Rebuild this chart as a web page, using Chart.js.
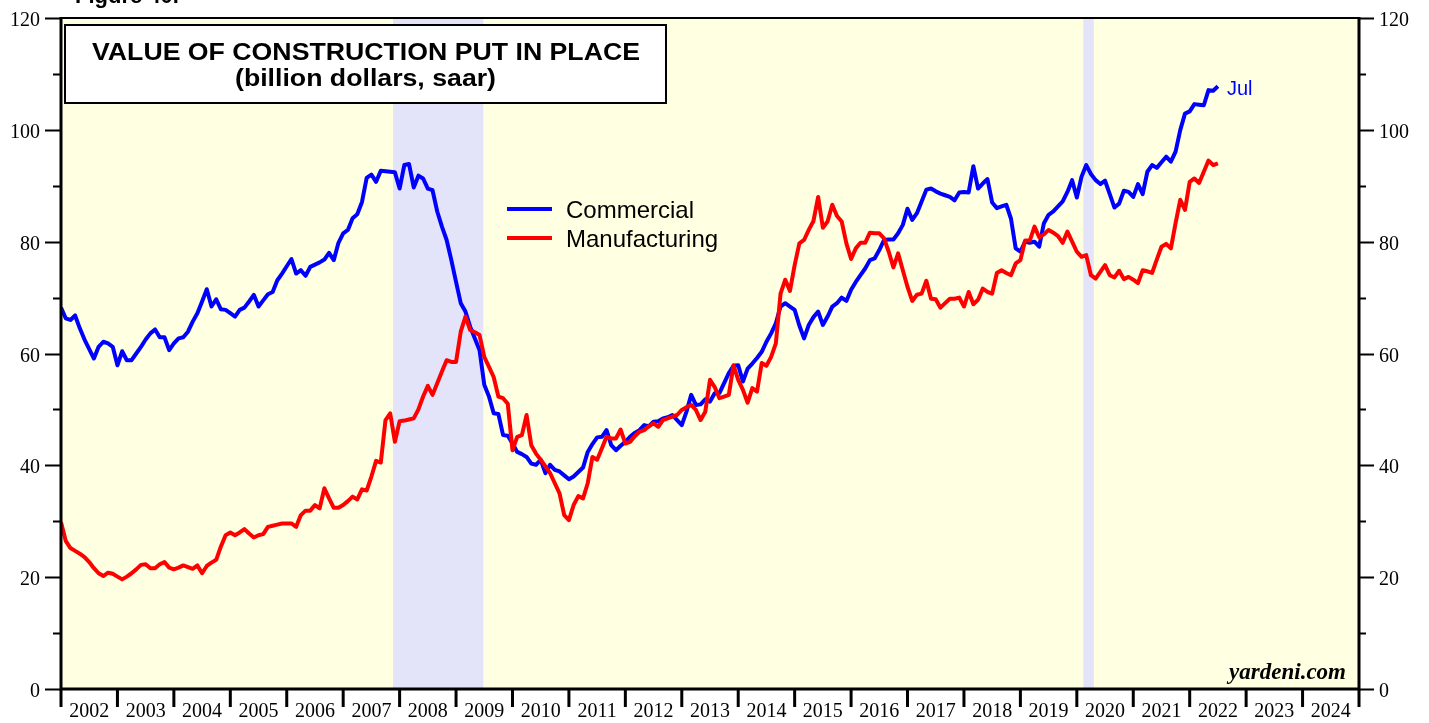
<!DOCTYPE html>
<html>
<head>
<meta charset="utf-8">
<title>Value of Construction Put in Place</title>
<script src="https://cdn.jsdelivr.net/npm/chart.js@4.4.1/dist/chart.umd.min.js"></script>
<style>
    html, body { margin: 0; padding: 0; background: #fff; }
    #wrap { width: 1429px; height: 723px; }
</style>
</head>
<body>
<div id="wrap"><canvas id="constructionChart" width="1429" height="723"></canvas></div>
<script>
// Monthly data, Jan 2002 .. Jul 2022 (billion dollars, saar)
const yearLabels = ['2002', '2003', '2004', '2005', '2006', '2007', '2008', '2009', '2010', '2011', '2012',
    '2013', '2014', '2015', '2016', '2017', '2018', '2019', '2020', '2021', '2022', '2023', '2024'];
const yTicks = [0, 20, 40, 60, 80, 100, 120];
const yMinorTicks = [10, 30, 50, 70, 90, 110];
// recession bands, in months since Jan 2002
const recessions = [[70.6, 89.8], [217.4, 219.6]];
const lastLabel = 'Jul';

const commercial = [
    68.2, 66.3, 66.0, 66.8, 64.5, 62.5, 60.8, 59.1, 61.2, 62.1, 61.8, 61.2, // 2002
    57.9, 60.4, 58.8, 58.8, 60.0, 61.2, 62.5, 63.6, 64.3, 62.9, 62.9, 60.6, // 2003
    61.8, 62.7, 62.9, 63.9, 65.7, 67.2, 69.3, 71.5, 68.4, 69.7, 67.9, 67.8, // 2004
    67.2, 66.6, 67.8, 68.2, 69.3, 70.5, 68.4, 69.5, 70.6, 71.0, 73.1, 74.3, // 2005
    75.6, 76.9, 74.3, 74.9, 73.9, 75.5, 75.9, 76.3, 76.8, 78.0, 76.7, 79.8, // 2006
    81.5, 82.1, 84.2, 84.9, 87.1, 91.4, 92.0, 90.7, 92.7, 92.6, 92.5, 92.4, // 2007
    89.5, 93.7, 93.9, 89.7, 91.8, 91.3, 89.5, 89.2, 85.4, 82.7, 80.3, 76.7, // 2008
    72.8, 69.0, 67.5, 64.8, 62.7, 60.6, 54.4, 52.3, 49.3, 49.2, 45.4, 45.3, // 2009
    43.9, 42.4, 42.0, 41.5, 40.3, 40.1, 41.0, 38.6, 40.1, 39.2, 38.9, 38.2, // 2010
    37.5, 38.0, 38.8, 39.6, 42.4, 43.8, 45.0, 45.1, 46.3, 43.6, 42.7, 43.5, // 2011
    44.2, 45.1, 45.8, 46.3, 47.2, 47.0, 47.8, 47.9, 48.4, 48.6, 49.0, 48.1, // 2012
    47.2, 49.6, 52.6, 50.8, 50.9, 51.8, 51.4, 52.9, 52.9, 54.7, 56.5, 57.8, // 2013
    57.9, 55.0, 57.3, 58.2, 59.2, 60.3, 62.1, 63.6, 65.4, 68.4, 69.0, 68.4, // 2014
    67.8, 65.0, 62.7, 65.1, 66.5, 67.5, 65.1, 66.6, 68.4, 69.0, 70.0, 69.4, // 2015
    71.4, 72.8, 74.0, 75.2, 76.7, 77.0, 78.5, 80.3, 80.4, 80.4, 81.5, 83.0, // 2016
    85.9, 83.9, 85.1, 87.2, 89.3, 89.5, 89.0, 88.6, 88.3, 88.0, 87.4, 88.8, // 2017
    88.9, 88.8, 93.5, 89.5, 90.4, 91.2, 87.0, 86.0, 86.3, 86.6, 84.1, 78.8, // 2018
    78.2, 80.0, 79.8, 80.0, 79.1, 83.3, 84.8, 85.4, 86.3, 87.2, 88.9, 91.0, // 2019
    87.9, 91.6, 93.7, 92.1, 91.0, 90.3, 90.9, 88.5, 86.1, 86.8, 89.1, 88.9, // 2020
    88.0, 90.3, 88.5, 92.5, 93.7, 93.2, 94.2, 95.2, 94.3, 96.1, 100.0, 102.9, // 2021
    103.3, 104.6, 104.5, 104.4, 107.1, 107.0, 107.8                          // 2022
];

const manufacturing = [
    29.8, 26.5, 25.2, 24.7, 24.2, 23.6, 22.7, 21.6, 20.7, 20.2, 20.8, 20.6, // 2002
    20.1, 19.6, 20.1, 20.7, 21.4, 22.2, 22.3, 21.6, 21.6, 22.3, 22.7, 21.7, // 2003
    21.4, 21.7, 22.1, 21.8, 21.5, 22.1, 20.7, 22.0, 22.6, 23.1, 25.5, 27.5, // 2004
    28.0, 27.5, 28.0, 28.6, 27.8, 27.1, 27.5, 27.7, 29.0, 29.2, 29.4, 29.6, // 2005
    29.6, 29.6, 29.0, 31.1, 31.9, 31.9, 32.9, 32.3, 35.9, 34.1, 32.4, 32.4, // 2006
    32.9, 33.6, 34.4, 33.9, 35.7, 35.5, 38.0, 40.8, 40.5, 48.1, 49.3, 44.2, // 2007
    47.9, 48.0, 48.2, 48.4, 50.0, 52.3, 54.2, 52.6, 54.7, 56.8, 58.8, 58.5, // 2008
    58.5, 63.9, 66.6, 64.2, 63.8, 63.3, 59.4, 57.6, 55.8, 52.3, 52.0, 51.0, // 2009
    42.7, 45.1, 45.4, 49.0, 43.6, 42.1, 41.0, 39.8, 38.6, 36.8, 35.0, 31.1, // 2010
    30.2, 32.9, 34.5, 34.1, 36.8, 41.5, 41.0, 43.0, 45.1, 44.8, 44.8, 46.4, // 2011
    43.9, 44.2, 45.2, 46.0, 46.3, 47.0, 47.5, 46.9, 48.1, 48.4, 48.7, 49.0, // 2012
    49.9, 50.4, 50.8, 49.9, 48.1, 49.6, 55.3, 54.0, 52.0, 52.3, 52.6, 57.9, // 2013
    55.3, 53.5, 51.2, 53.8, 53.2, 58.3, 57.8, 59.4, 61.8, 70.7, 73.2, 71.2, // 2014
    75.8, 79.7, 80.3, 82.1, 83.7, 88.0, 82.5, 83.6, 86.6, 84.6, 83.6, 79.7, // 2015
    76.9, 78.8, 79.8, 79.8, 81.6, 81.5, 81.5, 80.6, 78.2, 75.4, 77.9, 74.9, // 2016
    71.9, 69.4, 70.5, 70.7, 73.0, 69.8, 69.7, 68.2, 69.0, 69.8, 69.8, 70.0, // 2017
    68.4, 71.0, 68.8, 69.6, 71.6, 71.0, 70.7, 74.4, 74.9, 74.4, 74.0, 76.1, // 2018
    76.7, 80.2, 80.2, 82.7, 80.8, 81.3, 82.1, 81.6, 81.0, 79.8, 81.8, 80.0, // 2019
    78.2, 77.3, 77.6, 74.0, 73.4, 74.6, 75.8, 74.0, 73.6, 74.8, 73.3, 73.7, // 2020
    73.2, 72.6, 74.9, 74.7, 74.4, 76.8, 79.1, 79.6, 78.8, 83.3, 87.5, 85.7, // 2021
    90.7, 91.3, 90.5, 92.5, 94.5, 93.7, 94.0                                 // 2022
];

const SERIF = '"Liberation Serif", "Times New Roman", serif';
const SANS = '"Liberation Sans", Arial, sans-serif';

function toPoints(values) {
    return values.map((v, i) => ({ x: i, y: v }));
}

// bold title text, stretched sideways to the width of the original lettering
function wideText(ctx, text, cx, baseline, font, width) {
    ctx.save();
    ctx.font = font;
    const sx = width / ctx.measureText(text).width;
    ctx.translate(cx, baseline);
    ctx.scale(sx, 1);
    ctx.textAlign = 'center';
    ctx.fillText(text, 0, 0);
    ctx.restore();
}

// Background, recession shading, frame, axes, title box, legend
const yardeniLook = {
    id: 'yardeniLook',
    beforeDraw(chart) {
        const { ctx, chartArea: a, scales: { x } } = chart;
        ctx.save();
        ctx.fillStyle = '#fff';
        ctx.fillRect(0, 0, chart.width, chart.height);
        ctx.fillStyle = '#ffffe2';
        ctx.fillRect(a.left, a.top, a.right - a.left, a.bottom - a.top);
        ctx.fillStyle = '#e3e3fa';
        recessions.forEach(([s, e]) => {
            const x0 = x.getPixelForValue(s);
            const x1 = x.getPixelForValue(e);
            ctx.fillRect(x0, a.top, x1 - x0, a.bottom - a.top);
        });
        ctx.restore();
    },
    afterDraw(chart) {
        const { ctx, chartArea: a, scales: { x, y } } = chart;
        ctx.save();

        // frame
        ctx.strokeStyle = '#000';
        ctx.lineWidth = 2;
        ctx.beginPath();
        ctx.moveTo(a.left, a.top);
        ctx.lineTo(a.right, a.top);
        ctx.stroke();
        ctx.lineWidth = 3;
        ctx.beginPath();
        ctx.moveTo(a.left, a.top - 1);
        ctx.lineTo(a.left, a.bottom);
        ctx.lineTo(a.right, a.bottom);
        ctx.lineTo(a.right, a.top - 1);
        ctx.stroke();

        // y ticks, both sides
        ctx.lineWidth = 2;
        ctx.font = '20px ' + SERIF;
        ctx.fillStyle = '#000';
        yTicks.forEach(v => {
            const py = Math.round(y.getPixelForValue(v)) + 0.5;
            ctx.beginPath();
            ctx.moveTo(a.left - 16, py); ctx.lineTo(a.left, py);
            ctx.moveTo(a.right, py); ctx.lineTo(a.right + 15, py);
            ctx.stroke();
            ctx.textAlign = 'right';
            ctx.fillText(String(v), a.left - 21, py + 7);
            ctx.textAlign = 'left';
            ctx.fillText(String(v), a.right + 20, py + 7);
        });
        yMinorTicks.forEach(v => {
            const py = Math.round(y.getPixelForValue(v)) + 0.5;
            ctx.beginPath();
            ctx.moveTo(a.left - 8, py); ctx.lineTo(a.left, py);
            ctx.moveTo(a.right, py); ctx.lineTo(a.right + 7, py);
            ctx.stroke();
        });

        // x ticks at year boundaries, labels centred in each year
        ctx.lineWidth = 3;
        for (let i = 0; i <= yearLabels.length; i++) {
            const px = x.getPixelForValue(i * 12);
            ctx.beginPath();
            ctx.moveTo(px, a.bottom);
            ctx.lineTo(px, a.bottom + 18);
            ctx.stroke();
        }
        ctx.textAlign = 'center';
        yearLabels.forEach((lab, i) => {
            ctx.fillText(lab, x.getPixelForValue(i * 12 + 6), a.bottom + 28);
        });

        // title box
        ctx.fillStyle = '#fff';
        ctx.fillRect(65, 25, 601, 78);
        ctx.lineWidth = 2;
        ctx.strokeRect(65, 25, 601, 78);
        ctx.fillStyle = '#000';
        wideText(ctx, 'VALUE OF CONSTRUCTION PUT IN PLACE', 366, 60, 'bold 24px ' + SANS, 548);
        wideText(ctx, '(billion dollars, saar)', 365.5, 86, 'bold 23px ' + SANS, 261);

        // legend
        ctx.textAlign = 'left';
        ctx.font = '24px ' + SANS;
        ctx.lineWidth = 4;
        chart.data.datasets.forEach((ds, i) => {
            const ly = 209 + i * 29;
            ctx.strokeStyle = ds.borderColor;
            ctx.beginPath();
            ctx.moveTo(507, ly);
            ctx.lineTo(552, ly);
            ctx.stroke();
            ctx.fillStyle = '#000';
            ctx.fillText(ds.label, 566, ly + 9);
        });

        // last month label
        const last = commercial.length - 1;
        ctx.fillStyle = '#0000ff';
        ctx.font = '20px ' + SANS;
        ctx.fillText(lastLabel, x.getPixelForValue(last) + 9, y.getPixelForValue(commercial[last]) + 8.5);

        // source
        ctx.fillStyle = '#000';
        ctx.textAlign = 'right';
        ctx.font = 'italic bold 23px ' + SERIF;
        ctx.fillText('yardeni.com', a.right - 13, a.bottom - 10);

        // figure caption, cut by the top edge
        ctx.textAlign = 'left';
        ctx.font = 'bold 22px ' + SANS;
        ctx.fillText('Figure 40.', 75, 3);

        ctx.restore();
    }
};

new Chart(document.getElementById('constructionChart').getContext('2d'), {
    type: 'line',
    data: {
        datasets: [{
            label: 'Commercial',
            data: toPoints(commercial),
            borderColor: '#0000ff',
            borderWidth: 4,
            borderJoinStyle: 'round',
            pointRadius: 0,
            tension: 0,
            fill: false,
            order: 2
        }, {
            label: 'Manufacturing',
            data: toPoints(manufacturing),
            borderColor: '#ff0000',
            borderWidth: 4,
            borderJoinStyle: 'round',
            pointRadius: 0,
            tension: 0,
            fill: false,
            order: 1
        }]
    },
    options: {
        responsive: false,
        animation: false,
        layout: {
            padding: { left: 61, right: 70, top: 18, bottom: 34 }
        },
        plugins: {
            legend: { display: false },
            tooltip: { enabled: false }
        },
        scales: {
            x: { type: 'linear', min: 0, max: 276, display: false },
            y: { min: 0, max: 120, display: false }
        }
    },
    plugins: [yardeniLook]
});
</script>
</body>
</html>
